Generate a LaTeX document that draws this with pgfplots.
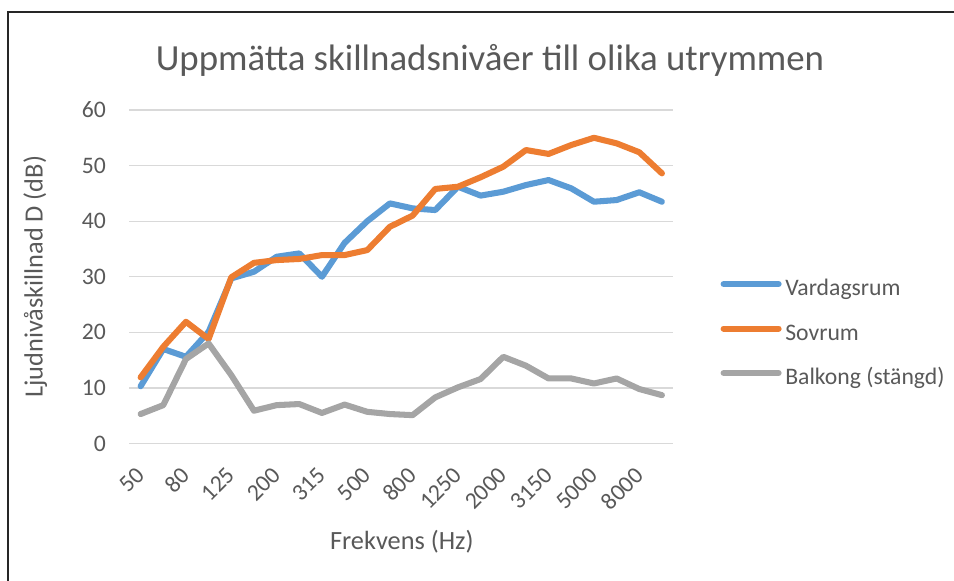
\documentclass[border=0pt]{standalone}
\usepackage{fontspec}
\setmainfont{Carlito}
\usepackage{pgfplots}
\pgfplotsset{compat=1.18}
\definecolor{cblue}{HTML}{5B9BD5}
\definecolor{corange}{HTML}{ED7D31}
\definecolor{cgray}{HTML}{A5A5A5}
\definecolor{txt}{HTML}{595959}
\definecolor{gridc}{HTML}{D9D9D9}
\begin{document}
\begin{tikzpicture}
\useasboundingbox (0,0) rectangle (362.52pt,220.4pt);
\draw[line width=0.6pt, black!85] (3.04pt,-1pt) -- (3.04pt,215.84pt) -- (364pt,215.84pt);
\node[text=txt, font=\fontsize{14}{17}\selectfont, anchor=base] at (186.2pt,193.8pt) {Uppmätta skillnadsnivåer till olika utrymmen};
\begin{axis}[
  at={(49.13pt,51.87pt)}, anchor=south west,
  scale only axis, width=206.72pt, height=126.73pt,
  xmin=-0.5, xmax=23.5, ymin=0, ymax=60,
  ytick={0,10,...,60},
  xtick={0,2,...,22},
  xticklabels={50,80,125,200,315,500,800,1250,2000,3150,5000,8000},
  axis line style={draw=none},
  major tick length=0pt,
  ymajorgrids, grid style={gridc, line width=0.5pt},
  /pgf/number format/assume math mode=true,
  tick label style={text=txt, font=\fontsize{9}{11}\selectfont},
  yticklabel style={inner sep=0pt, anchor=east, xshift=-8.7pt},
  xticklabel style={inner sep=0pt, xshift=0pt, yshift=-10.5pt, rotate=45, anchor=east},
  xlabel={Frekvens (Hz)},
  ylabel={Ljudnivåskillnad D (dB)},
  label style={text=txt, font=\fontsize{10}{12}\selectfont},
  xlabel style={at={(axis description cs:0.501,-0.295)}, anchor=center},
  ylabel style={at={(axis description cs:-0.173,0.5)}, anchor=center},
  legend style={at={(axis description cs:1.086,0.325)}, anchor=west, draw=none, fill=none,
    inner sep=0pt, row sep=8.9pt, column sep=1.4pt, font=\fontsize{9}{11}\selectfont, text=txt,
    nodes={inner sep=0pt, text height=6pt, text depth=2pt}},
  legend cell align=left,
  legend image code/.code={\draw[#1, line cap=round] (0pt,2.5pt) -- (20.9pt,2.5pt);},
  every axis plot/.append style={line width=2.3pt, line join=round, line cap=round, mark=none},
]
\addplot[cblue] coordinates {
(0,10.3) (1,17.0) (2,15.6) (3,20.1) (4,29.7) (5,30.9) (6,33.6) (7,34.2) (8,30.0) (9,36.1) (10,40.0) (11,43.2)
(12,42.3) (13,42.0) (14,46.2) (15,44.6) (16,45.3) (17,46.5) (18,47.4) (19,45.9) (20,43.5) (21,43.8) (22,45.2) (23,43.5)};
\addlegendentry{Vardagsrum}
\addplot[corange] coordinates {
(0,11.9) (1,17.4) (2,21.9) (3,18.8) (4,29.9) (5,32.5) (6,33.0) (7,33.2) (8,33.9) (9,33.9) (10,34.8) (11,39.0)
(12,41.0) (13,45.8) (14,46.2) (15,47.9) (16,49.8) (17,52.8) (18,52.1) (19,53.7) (20,55.0) (21,54.0) (22,52.4) (23,48.6)};
\addlegendentry{Sovrum}
\addplot[cgray] coordinates {
(0,5.3) (1,6.9) (2,15.2) (3,18.0) (4,12.3) (5,5.9) (6,6.9) (7,7.1) (8,5.5) (9,7.0) (10,5.7) (11,5.3)
(12,5.1) (13,8.3) (14,10.1) (15,11.6) (16,15.6) (17,14.0) (18,11.7) (19,11.7) (20,10.8) (21,11.7) (22,9.8) (23,8.7)};
\addlegendentry{Balkong (stängd)}
\end{axis}
\end{tikzpicture}
\end{document}
